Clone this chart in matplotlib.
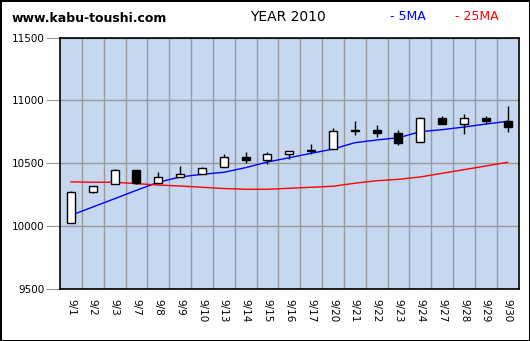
import matplotlib
matplotlib.use('Agg')
from matplotlib import pyplot as plt
from matplotlib import ticker

dates = ['9/1', '9/2', '9/3', '9/7', '9/8', '9/9', '9/10', '9/13', '9/14', '9/15',
         '9/16', '9/17', '9/20', '9/21', '9/22', '9/23', '9/24', '9/27', '9/28',
         '9/29', '9/30']
opens = [10022, 10274, 10333, 10446, 10345, 10393, 10417, 10468, 10550, 10528,
         10576, 10609, 10616, 10764, 10762, 10741, 10671, 10860, 10814, 10860, 10836]
highs = [10280, 10317, 10454, 10446, 10430, 10478, 10470, 10574, 10590, 10590,
         10600, 10655, 10780, 10836, 10804, 10762, 10868, 10876, 10892, 10876, 10955]
lows = [10022, 10260, 10333, 10333, 10345, 10393, 10412, 10468, 10504, 10492,
        10534, 10574, 10616, 10722, 10711, 10648, 10671, 10814, 10735, 10814, 10751]
closes = [10269, 10317, 10444, 10345, 10391, 10415, 10462, 10550, 10526, 10574,
          10597, 10597, 10756, 10760, 10743, 10663, 10857, 10814, 10860, 10838, 10791]
ma5 = [10086, 10152, 10218, 10285, 10349, 10391, 10412, 10428, 10465, 10510,
       10544, 10579, 10613, 10663, 10685, 10703, 10751, 10767, 10788, 10812, 10833]
ma25 = [10352, 10349, 10349, 10338, 10327, 10319, 10309, 10299, 10293, 10293,
        10301, 10309, 10317, 10341, 10361, 10372, 10391, 10420, 10449, 10478, 10508]

fig = plt.figure(figsize=(5.30, 3.41), dpi=100)
fig.patch.set_facecolor('white')
fig.patch.set_edgecolor('black')
fig.patch.set_linewidth(2)

ax = fig.add_axes([60 / 530, 52 / 341, 458.5 / 530, 251.5 / 341])
ax.set_facecolor('#C6D8F0')

xs = list(range(len(dates)))

# moving averages
ax.plot(xs, ma5, color='#0000FF', lw=1, zorder=3)
ax.plot(xs, ma25, color='#FF0000', lw=1, zorder=3)

# candles: wick then body
ax.vlines(xs, lows, highs, color='black', lw=1, zorder=4)
bodies = [c - o if c != o else 1 for o, c in zip(opens, closes)]
fills = ['white' if c > o else 'black' for o, c in zip(opens, closes)]
ax.bar(xs, bodies, bottom=opens, width=0.37, color=fills, edgecolor='black',
       linewidth=1, zorder=5)

ax.set_xlim(-0.5, len(dates) - 0.5)
ax.set_ylim(9500, 11500)

ax.xaxis.set_major_locator(ticker.FixedLocator(xs))
ax.xaxis.set_minor_locator(ticker.FixedLocator([x + 0.5 for x in xs[:-1]]))
ax.set_xticklabels(dates, rotation=-90, fontsize=7.5)
ax.tick_params(axis='x', which='both', length=0, pad=7)
ax.yaxis.set_major_locator(ticker.MultipleLocator(500))
ax.tick_params(axis='y', length=10, color='#999999', pad=1, labelsize=7.5)

ax.grid(True, which='minor', axis='x', color='#999999', lw=1)
ax.grid(True, which='major', axis='y', color='#999999', lw=1)
ax.set_axisbelow(True)
for s in ax.spines.values():
    s.set_color('black')
    s.set_linewidth(1.2)

fig.text(12 / 530, 1 - 18 / 341, 'www.kabu-toushi.com', fontsize=9,
         fontweight='bold', va='center', ha='left')
fig.text(288 / 530, 1 - 17 / 341, 'YEAR 2010', fontsize=10, va='center', ha='center')
fig.text(390 / 530, 1 - 17 / 341, '- 5MA', fontsize=9, color='#0000FF', va='center')
fig.text(455 / 530, 1 - 17 / 341, '- 25MA', fontsize=9, color='#FF0000', va='center')

fig.savefig('out.png', dpi=100, facecolor=fig.get_facecolor(), edgecolor=fig.get_edgecolor())
